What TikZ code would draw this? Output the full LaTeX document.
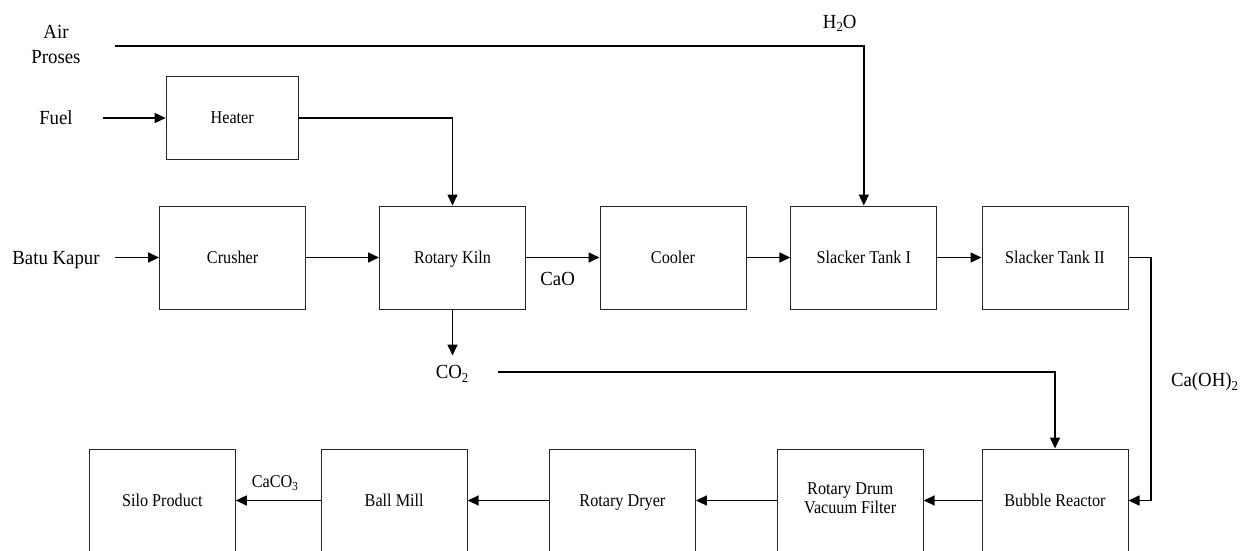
\documentclass[tikz,border=0pt]{standalone}
\usepackage{fontspec}
\usepackage{graphicx}
\setmainfont{Liberation Serif}
\usetikzlibrary{arrows.meta}
\newcommand{\chsub}[1]{\raisebox{-0.4ex}{\scalebox{0.68}{#1}}}
\newcommand{\sqz}[1]{\scalebox{0.9}[1]{#1}}
\newcommand{\sqo}[1]{\scalebox{0.94}[1]{#1}}
\tikzset{
  unitbase/.style={draw=black!85, line width=1pt, minimum width=146pt, minimum height=103pt, inner sep=0pt,
    font=\fontsize{18}{19}\selectfont, align=center},
  unit/.style={unitbase, text height=12pt, text depth=0pt},
  lbl/.style={inner sep=0pt, font=\fontsize{20}{25}\selectfont, align=center, text height=13.3pt, text depth=0pt},
  lbls/.style={inner sep=0pt, font=\fontsize{18}{19}\selectfont, text height=12pt, text depth=0pt},
  flow/.style={line width=1.6pt, -{Triangle[length=11pt,width=10pt]}}
}
\begin{document}
\begin{tikzpicture}[x=1pt,y=-1pt]
\useasboundingbox (0,0) rectangle (1259,551);
\clip (0,0) rectangle (1259,551);
% top row
\node[unit] (crusher) at (232.6,257.5) {\sqz{Crusher}};
\node[unit] (kiln) at (452.5,257.5) {\sqz{Rotary Kiln}};
\node[unit] (cooler) at (673,257.5) {\sqz{Cooler}};
\node[unit] (st1) at (863.8,257.5) {\sqz{Slacker Tank I}};
\node[unit] (st2) at (1055,257.5) {\sqz{Slacker Tank II}};
\node[unit, minimum width=132pt, minimum height=82pt] (heater) at (232.2,118) {\sqz{Heater}};
% bottom row
\node[unit] (silo) at (162.3,500.5) {\sqz{Silo Product}};
\node[unit] (ball) at (394.2,500.5) {\sqz{Ball Mill}};
\node[unit] (dryer) at (622.4,500.5) {\sqz{Rotary Dryer}};
\node[unitbase] (rdvf) at (850.2,500.5) {\sqz{\begin{tabular}{@{}c@{}}Rotary Drum\\Vacuum Filter\end{tabular}}};
\node[unit] (bubble) at (1055,500.5) {\sqz{Bubble Reactor}};
% labels
\node[inner sep=0pt, font=\fontsize{20}{25}\selectfont] (air) at (56,46) {\sqo{\begin{tabular}{@{}c@{}}Air\\Proses\end{tabular}}};
\node[lbl] (fuel) at (56,118) {\sqo{Fuel}};
\node[lbl] (batu) at (56,257.5) {\sqo{Batu Kapur}};
\node[lbl] (h2o) at (839.7,21.5) {\sqo{H\chsub{2}O}};
\node[lbl] (cao) at (557.6,279) {\sqo{CaO}};
\node[lbl] (co2) at (452,371.7) {\sqo{CO\chsub{2}}};
\node[lbl] (caoh) at (1204.5,380) {\sqo{Ca(OH)\chsub{2}}};
\node[lbls] (caco3) at (274.8,481) {\sqz{CaCO\chsub{3}}};
% free ends
\coordinate (airS) at (114.5,46);
\coordinate (fuelS) at (103,118);
\coordinate (batuS) at (115,257.5);
\coordinate (co2S) at (498,371.7);
% connectors
\draw[flow] (airS) -| (st1.north);
\draw[flow] (fuelS) -- (heater.west);
\draw[flow] (heater.east) -| (kiln.north);
\draw[flow] (batuS) -- (crusher.west);
\draw[flow] (crusher.east) -- (kiln.west);
\draw[flow] (kiln.east) -- (cooler.west);
\draw[flow] (cooler.east) -- (st1.west);
\draw[flow] (st1.east) -- (st2.west);
\draw[flow] (kiln.south) -- ++(0,46);
\draw[flow] (co2S) -| (bubble.north);
\draw[flow] (st2.east) -- ++(22.7,0) |- (bubble.east);
\draw[flow] (bubble.west) -- (rdvf.east);
\draw[flow] (rdvf.west) -- (dryer.east);
\draw[flow] (dryer.west) -- (ball.east);
\draw[flow] (ball.west) -- (silo.east);
\end{tikzpicture}
\end{document}
